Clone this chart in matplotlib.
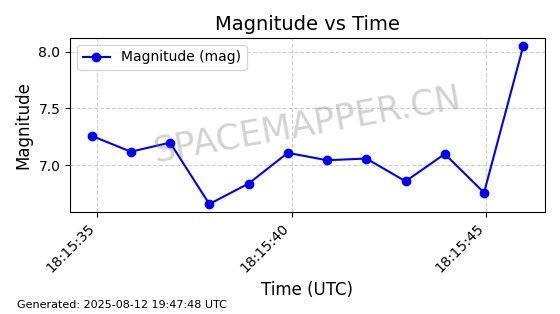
import matplotlib
matplotlib.use("Agg")
import matplotlib.pyplot as plt
import matplotlib.dates as mdates
import pandas as pd

times = ["2025-08-12 18:15:34.850", "2025-08-12 18:15:35.860", "2025-08-12 18:15:36.870",
         "2025-08-12 18:15:37.880", "2025-08-12 18:15:38.890", "2025-08-12 18:15:39.900",
         "2025-08-12 18:15:40.910", "2025-08-12 18:15:41.920", "2025-08-12 18:15:42.930",
         "2025-08-12 18:15:43.940", "2025-08-12 18:15:44.950", "2025-08-12 18:15:45.960"]
magnitudes = [7.26, 7.12, 7.20, 6.66, 6.84, 7.11, 7.045, 7.06, 6.86, 7.10, 6.76, 8.05]

t = pd.to_datetime(times)

fig, ax = plt.subplots(figsize=(5.6, 3.14), dpi=100)
ax.plot(t, magnitudes, marker='o', color='blue', linewidth=1.5, markersize=6, label='Magnitude (mag)')
ax.set_title('Magnitude vs Time', fontsize=14)
ax.set_xlabel('Time (UTC)', fontsize=12)
ax.set_ylabel('Magnitude', fontsize=12)
ax.grid(True, linestyle='--', alpha=0.6)
ax.legend(loc='upper left')
ax.xaxis.set_major_locator(mdates.SecondLocator(bysecond=range(0, 60, 5)))
ax.xaxis.set_major_formatter(mdates.DateFormatter('%H:%M:%S'))
plt.setp(ax.get_xticklabels(), rotation=45, ha='right')
ax.text(0.5, 0.5, 'SPACEMAPPER.CN', transform=ax.transAxes, fontsize=25,
        color='gray', alpha=0.35, rotation=10, ha='center', va='center')
fig.subplots_adjust(left=0.125, right=0.973, top=0.879, bottom=0.325)
fig.text(0.03, 0.02, 'Generated: 2025-08-12 19:47:48 UTC', fontsize=8)
fig.savefig('out.png', dpi=100)
